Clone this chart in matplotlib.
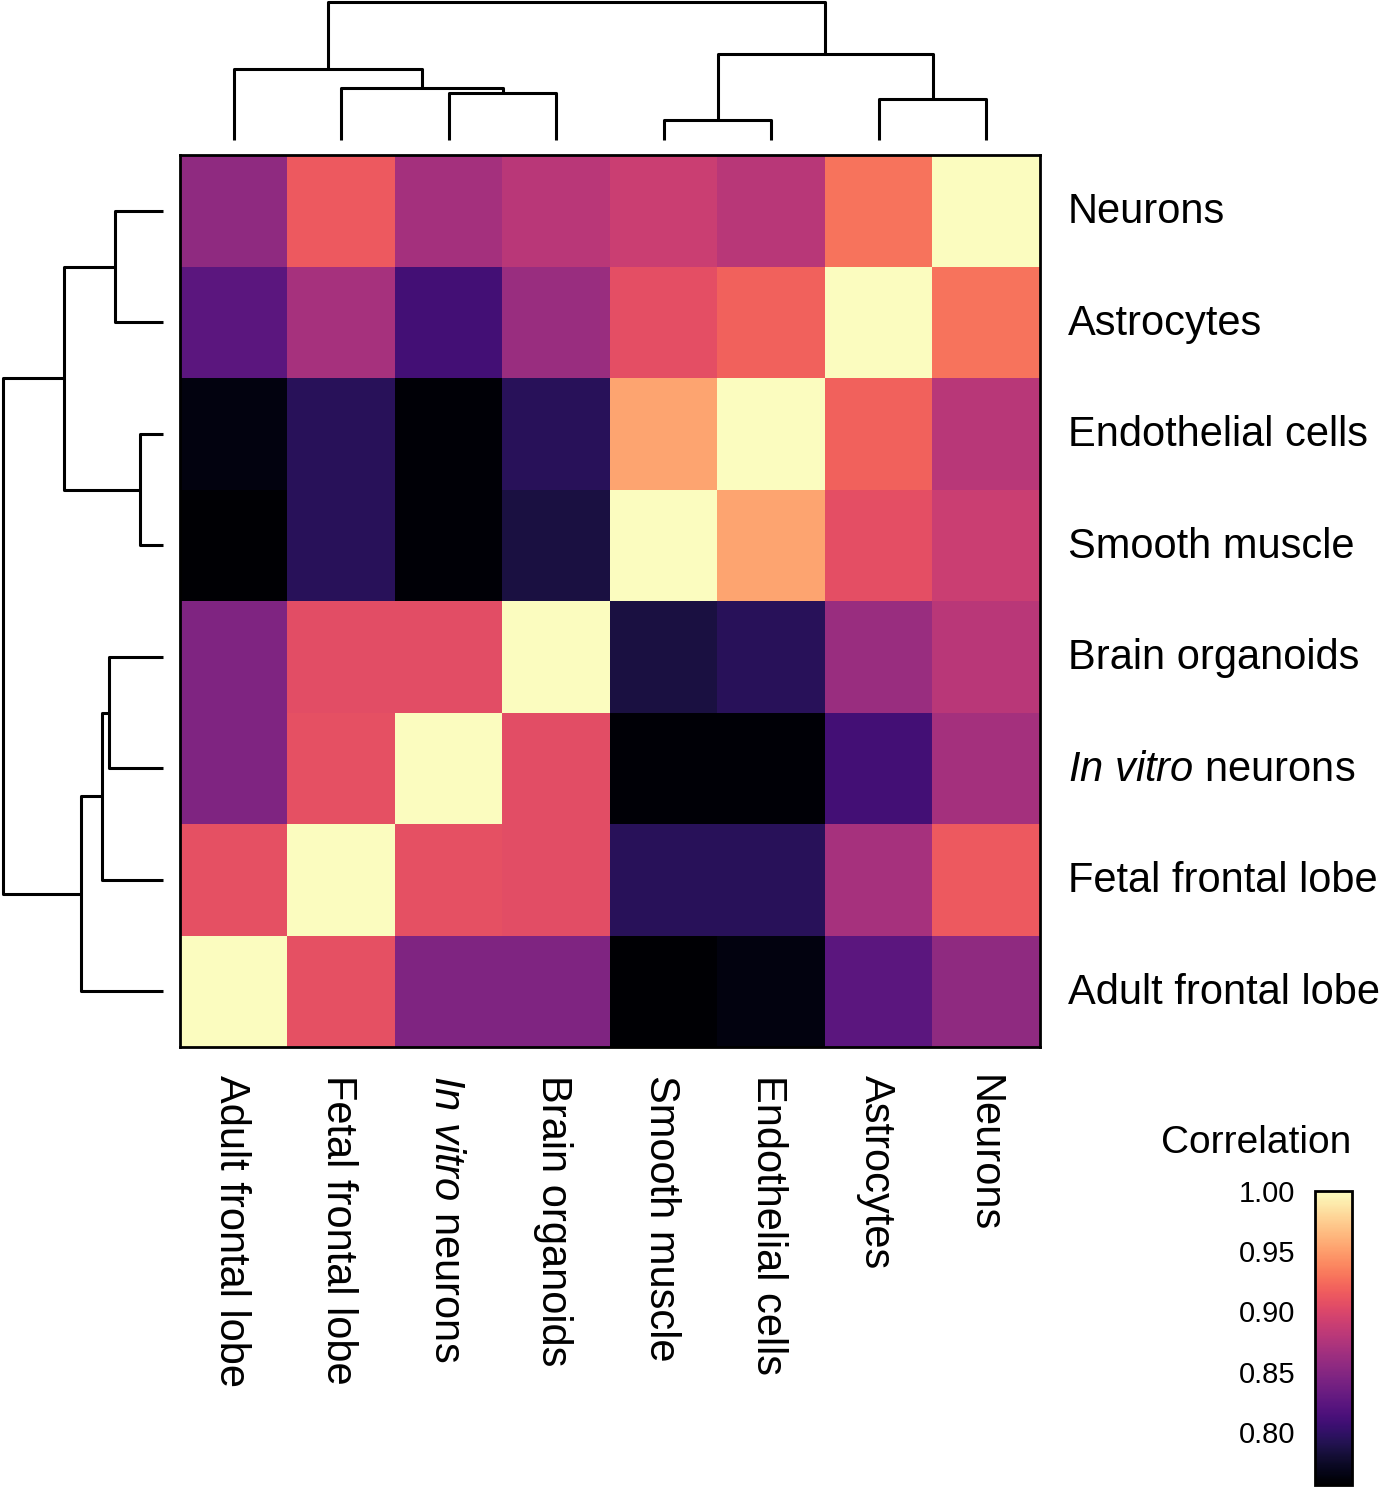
import matplotlib
matplotlib.use("Agg")
import matplotlib.pyplot as plt
import matplotlib.transforms as mtrans
import numpy as np

plt.rcParams['font.family'] = ['Liberation Sans', 'DejaVu Sans']
plt.rcParams['mathtext.fontset'] = 'custom'
plt.rcParams['mathtext.rm'] = 'Liberation Sans'
plt.rcParams['mathtext.it'] = 'Liberation Sans:italic'

# sample order (columns left->right, rows bottom->top)
labels = ['Adult frontal lobe', 'Fetal frontal lobe', r'$\mathit{In\ vitro}$ neurons',
          'Brain organoids', 'Smooth muscle', 'Endothelial cells', 'Astrocytes', 'Neurons']

corr_adult = [1.000, 0.908, 0.846, 0.846, 0.757, 0.763, 0.824, 0.856]
corr_fetal = [0.908, 1.000, 0.908, 0.906, 0.795, 0.795, 0.869, 0.915]
corr_invitro = [0.846, 0.908, 1.000, 0.906, 0.758, 0.758, 0.810, 0.868]
corr_organoid = [0.846, 0.906, 0.906, 1.000, 0.785, 0.795, 0.861, 0.880]
corr_smooth = [0.757, 0.795, 0.758, 0.785, 1.000, 0.954, 0.907, 0.890]
corr_endo = [0.763, 0.795, 0.758, 0.795, 0.954, 1.000, 0.919, 0.879]
corr_astro = [0.824, 0.869, 0.810, 0.861, 0.907, 0.919, 1.000, 0.929]
corr_neurons = [0.856, 0.915, 0.868, 0.880, 0.890, 0.879, 0.929, 1.000]

# linkage: (child a, child b, height); leaves 0..7, new nodes from 8
merges = [(4, 5, 0.145), (6, 7, 0.30), (2, 3, 0.34), (1, 10, 0.38),
          (0, 11, 0.515), (8, 9, 0.62), (12, 13, 1.0)]

cbar_ticks = [0.80, 0.85, 0.90, 0.95, 1.00]
vmin, vmax = 0.756, 1.0

M = np.array([corr_adult, corr_fetal, corr_invitro, corr_organoid,
              corr_smooth, corr_endo, corr_astro, corr_neurons])
n = len(labels)

W, H = 1381, 1488
fig = plt.figure(figsize=(W / 100, H / 100), dpi=100)

def frac(x0, y0, x1, y1):
    return [x0 / W, 1 - y1 / H, (x1 - x0) / W, (y1 - y0) / H]

ax = fig.add_axes(frac(180, 155, 1040, 1047))
im = ax.imshow(M, cmap='magma', vmin=vmin, vmax=vmax, origin='lower',
               extent=(0, n, 0, n), aspect='auto', interpolation='nearest')
ax.set_xlim(0, n)
ax.set_ylim(0, n)
ax.set_xticks(np.arange(n) + 0.5)
ax.set_xticklabels(labels, rotation=270, fontsize=30, va='top', ha='center')
ax.set_yticks(np.arange(n) + 0.5)
ax.set_yticklabels(labels, fontsize=30)
ax.yaxis.tick_right()
ax.tick_params(length=0, pad=20)
for s in ax.spines.values():
    s.set_linewidth(2)

# nudge labels a few pixels to sit like the original
up = mtrans.ScaledTranslation(0, 3 / 100, fig.dpi_scale_trans)
left = mtrans.ScaledTranslation(-3 / 100, 0, fig.dpi_scale_trans)
for t in ax.get_yticklabels():
    t.set_transform(t.get_transform() + up)
for t in ax.get_xticklabels():
    t.set_transform(t.get_transform() + left)

# dendrogram positions
pos = {i: i + 0.5 for i in range(n)}
hgt = {i: 0.0 for i in range(n)}
segs = []
for k, (a, b, h) in enumerate(merges):
    node = n + k
    segs.append(([pos[a], pos[a], pos[b], pos[b]], [hgt[a], h, h, hgt[b]]))
    pos[node] = (pos[a] + pos[b]) / 2
    hgt[node] = h

axt = fig.add_axes(frac(180, 2, 1040, 140))
for xs, ys in segs:
    axt.plot(xs, ys, color='black', lw=2.2, clip_on=False, solid_capstyle='butt')
axt.set_xlim(0, n)
axt.set_ylim(0, 1)
axt.axis('off')

axl = fig.add_axes(frac(3, 155, 163, 1047))
for xs, ys in segs:
    axl.plot(ys, xs, color='black', lw=2.2, clip_on=False, solid_capstyle='butt')
axl.set_ylim(0, n)
axl.set_xlim(1, 0)
axl.axis('off')

# colorbar
cax = fig.add_axes(frac(1315, 1191, 1352, 1485))
cb = fig.colorbar(im, cax=cax, ticks=cbar_ticks)
cb.ax.set_yticklabels(['%.2f' % t for t in cbar_ticks])
cax.yaxis.set_ticks_position('left')
cax.tick_params(length=0, pad=14, labelsize=21)
cb.outline.set_linewidth(2)
fig.text(1256 / W, 1 - 1143 / H, 'Correlation', fontsize=28, ha='center', va='center')

fig.savefig('out.png', dpi=100)
